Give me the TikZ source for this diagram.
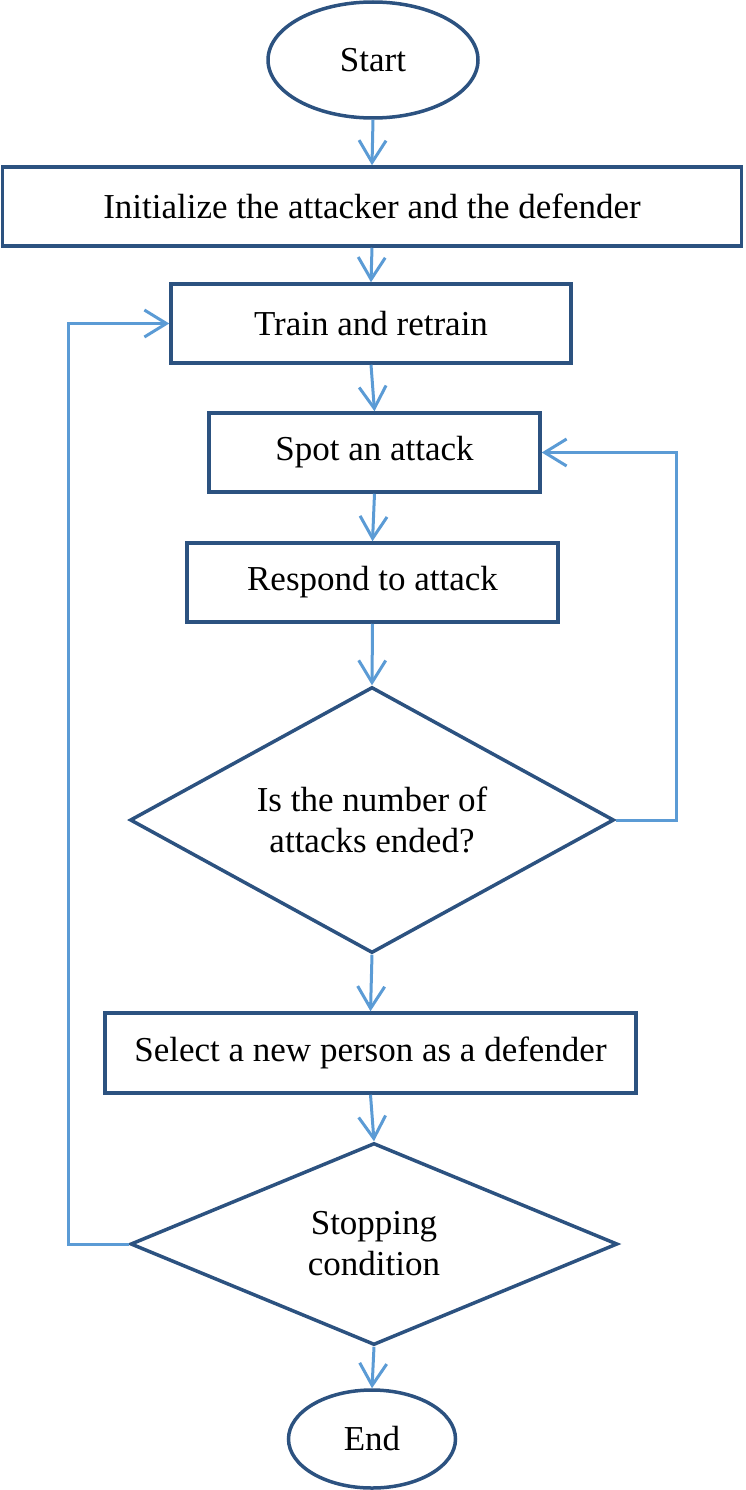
\documentclass[tikz,border=0pt]{standalone}
\usepackage{fontspec}
\setmainfont{Liberation Serif}
\usetikzlibrary{shapes.geometric,arrows.meta}
\definecolor{boxblue}{RGB}{44,82,128}
\definecolor{flowblue}{RGB}{91,155,213}
\newcommand{\flowto}[2]{\draw[flow] (#1) -- (#2);}

\begin{document}
\begin{tikzpicture}[x=1pt,y=-1pt,
    every node/.style={font=\fontsize{35}{41}\selectfont,align=center,inner sep=0pt},
    box/.style={draw=boxblue,line width=3.5pt,rectangle,minimum height=79pt},
    term/.style={draw=boxblue,line width=3.5pt,ellipse},
    test/.style={draw=boxblue,line width=3.5pt,diamond,aspect=1.8},
    flow/.style={draw=flowblue,line width=3pt,-{Straight Barb[length=22pt,width=27pt]}}]
      \useasboundingbox (0,0) rectangle (745,1490);
      \node[term,minimum width=210pt,minimum height=116pt] (start) at (373,60) {Start};
      \node[box,minimum width=739pt] (init) at (372,206.5) {Initialize the attacker and the defender};
      \node[box,minimum width=400pt] (train) at (371,323.5) {Train and retrain};
      \node[box,minimum width=331pt] (spot) at (374.5,452.5) {Spot an attack};
      \node[box,minimum width=371pt] (respond) at (372.5,582.5) {Respond to attack};
      \node[test,minimum width=484pt,minimum height=266pt] (ended) at (372,820) {Is the number of\\attacks ended?};
      \node[box,minimum width=531pt,minimum height=80pt] (select) at (370.5,1053) {Select a new person as a defender};
      \node[test,minimum width=487pt,minimum height=202pt] (stop) at (374,1244) {Stopping\\condition};
      \node[term,minimum width=167pt,minimum height=98pt] (end) at (372,1439) {End};
      % loop corners
      \coordinate (rloop) at (676,820);
      \coordinate (lloop) at (68,1244);
      \flowto{start.south}{init.north}
      \flowto{init.south}{train.north}
      \flowto{train.south}{spot.north}
      \flowto{spot.south}{respond.north}
      \flowto{respond.south}{ended.north}
      \flowto{ended.south}{select.north}
      \flowto{select.south}{stop.north}
      \flowto{stop.south}{end.north}
      \draw[flow] (ended.east) -- (rloop) |- (spot.east);
      \draw[flow] (stop.west) -- (lloop) |- (train.west);
\end{tikzpicture}
\end{document}
